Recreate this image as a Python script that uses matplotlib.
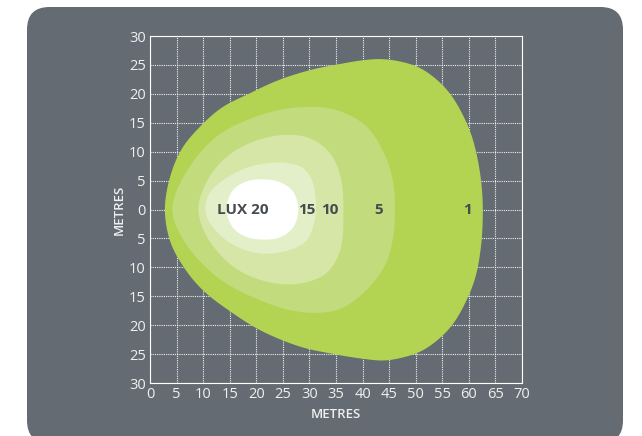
import numpy as np
import matplotlib
matplotlib.use("Agg")
import matplotlib.pyplot as plt
from matplotlib.patches import FancyBboxPatch, Polygon

# ----------------------------------
# Data: lux contour outlines (metres)
# ----------------------------------
lux1_x = [2.8, 3.8, 6.0, 9.4, 13.5, 18.8, 24.0, 30.1, 36.0, 40.0, 43.5, 47.0, 50.5, 53.5, 56.3, 58.5,
          60.5, 61.8, 62.5, 62.6, 62.2, 61.2, 59.4, 57.0, 54.2, 51.0, 47.5, 44.0, 40.0, 34.0, 28.2,
          21.0, 15.7, 10.0, 6.3, 3.8]
lux1_y = [0.0, 5.7, 10.5, 14.3, 17.6, 20.1, 22.3, 24.1, 25.2, 25.8, 26.0, 25.6, 24.6, 22.8, 20.2, 17.0,
          12.8, 8.0, 3.0, -2.0, -7.0, -11.8, -16.0, -19.8, -22.5, -24.5, -25.6, -26.1, -25.8, -24.9, -23.7,
          -21.0, -18.0, -14.0, -9.9, -5.5]

lux5_x = [4.2, 6.5, 12.5, 20.7, 28.2, 35.1, 40.8, 44.3, 45.8, 46.1, 45.8, 44.3, 40.1, 35.1, 28.2, 20.7, 12.5, 6.3]
lux5_y = [0.0, 6.0, 12.6, 16.3, 17.7, 17.2, 14.3, 9.2, 4.5, 0.0, -4.5, -9.5, -14.5, -17.4, -17.7, -15.7, -11.6, -5.3]

lux10_x = [9.1, 10.5, 13.8, 18.8, 25.1, 30.1, 33.9, 35.9, 36.4, 35.8, 33.2, 28.2, 22.0, 15.7, 10.7]
lux10_y = [0.0, 4.5, 8.6, 11.5, 12.9, 12.3, 9.7, 5.5, -0.5, -7.0, -11.0, -12.8, -12.5, -9.9, -4.7]

lux15_x = [10.4, 11.2, 13.8, 18.8, 25.1, 28.9, 30.7, 31.2, 31.0, 29.5, 26.3, 20.7, 15.1, 11.3]
lux15_y = [0.0, 2.8, 5.1, 7.4, 8.1, 7.1, 4.5, 1.0, -1.8, -5.3, -7.0, -7.6, -5.8, -2.4]

lux20_x = [14.4, 15.5, 18.0, 21.3, 24.5, 27.0, 27.9, 27.0, 24.5, 21.3, 18.0, 15.5]
lux20_y = [0.0, 3.2, 4.8, 5.2, 4.7, 3.0, 0.0, -3.0, -4.8, -5.2, -4.7, -3.0]

lux_labels = ["LUX 20", "15", "10", "5", "1"]
label_x = [17.5, 29.6, 33.9, 43.1, 59.8]

x_ticks = list(range(0, 71, 5))
y_ticks = list(range(-30, 31, 5))

# ----------------------------------
# Style
# ----------------------------------
panel_color = "#656b72"
text_light = "#eef0f0"
text_dark = "#464b50"
fill_colors = ["#b3d353", "#c2db7c", "#d5e6a6", "#e3efc9", "#ffffff"]


def smooth_closed(xs, ys, n=24):
    # closed centripetal Catmull-Rom curve through the outline points
    p = np.column_stack([xs, ys]).astype(float)
    m = len(p)
    out = []
    for i in range(m):
        P = [p[i - 1], p[i], p[(i + 1) % m], p[(i + 2) % m]]
        t0 = 0.0
        t1 = t0 + np.linalg.norm(P[1] - P[0]) ** 0.5
        t2 = t1 + np.linalg.norm(P[2] - P[1]) ** 0.5
        t3 = t2 + np.linalg.norm(P[3] - P[2]) ** 0.5
        t = np.linspace(t1, t2, n, endpoint=False)[:, None]
        A1 = (t1 - t) / (t1 - t0) * P[0] + (t - t0) / (t1 - t0) * P[1]
        A2 = (t2 - t) / (t2 - t1) * P[1] + (t - t1) / (t2 - t1) * P[2]
        A3 = (t3 - t) / (t3 - t2) * P[2] + (t - t2) / (t3 - t2) * P[3]
        B1 = (t2 - t) / (t2 - t0) * A1 + (t - t0) / (t2 - t0) * A2
        B2 = (t3 - t) / (t3 - t1) * A2 + (t - t1) / (t3 - t1) * A3
        out.append((t2 - t) / (t2 - t1) * B1 + (t - t1) / (t2 - t1) * B2)
    return np.vstack(out)


fig = plt.figure(figsize=(6.42, 4.36), dpi=100)
fig.patch.set_facecolor("white")

# rounded grey panel (bottom corners just reach the lower edge)
panel = FancyBboxPatch((27 / 642, -7 / 436), (623 - 27) / 642, (443 - 7) / 436,
                       boxstyle="round,pad=0,rounding_size=0.035",
                       transform=fig.transFigure, facecolor=panel_color,
                       edgecolor="none", mutation_aspect=642 / 436, zorder=-10)
fig.patches.append(panel)

ax = fig.add_axes([150 / 642, 1 - 383 / 436, (522 - 150) / 642, (383 - 36) / 436])
ax.set_zorder(5)
ax.set_facecolor("none")
ax.set_xlim(0, 70)
ax.set_ylim(-30, 30)

outlines = [(lux1_x, lux1_y), (lux5_x, lux5_y), (lux10_x, lux10_y),
            (lux15_x, lux15_y), (lux20_x, lux20_y)]
for (xs, ys), c in zip(outlines, fill_colors):
    ax.add_patch(Polygon(smooth_closed(xs, ys), closed=True, facecolor=c,
                         edgecolor="none", zorder=2))

for lab, lx in zip(lux_labels, label_x):
    ax.text(lx, 0, lab, ha="center", va="center", fontsize=11,
            fontweight="bold", color=text_dark, family="Open Sans", zorder=3)

# grid & frame (dotted white)
ax.set_xticks(x_ticks)
ax.set_yticks(y_ticks)
ax.set_xticklabels([str(v) for v in x_ticks])
ax.set_yticklabels([str(abs(v)) for v in y_ticks])
ax.grid(True, color="white", linestyle=(0, (1, 1)), linewidth=0.8, alpha=0.9)
ax.set_axisbelow(True)
for s in ax.spines.values():
    s.set_color("white")
    s.set_linestyle((0, (1, 1)))
    s.set_linewidth(0.8)
    s.set_zorder(0.5)
ax.tick_params(length=0, labelcolor=text_light, labelsize=10.5, pad=3)
for t in ax.get_xticklabels() + ax.get_yticklabels():
    t.set_family("Open Sans")

ax.set_xlabel("METRES", color=text_light, fontsize=9.5, fontweight="semibold",
              family="Open Sans", labelpad=4)
ax.set_ylabel("METRES", color=text_light, fontsize=9.5, fontweight="semibold",
              family="Open Sans", labelpad=2)

fig.savefig("out.png", dpi=100)
